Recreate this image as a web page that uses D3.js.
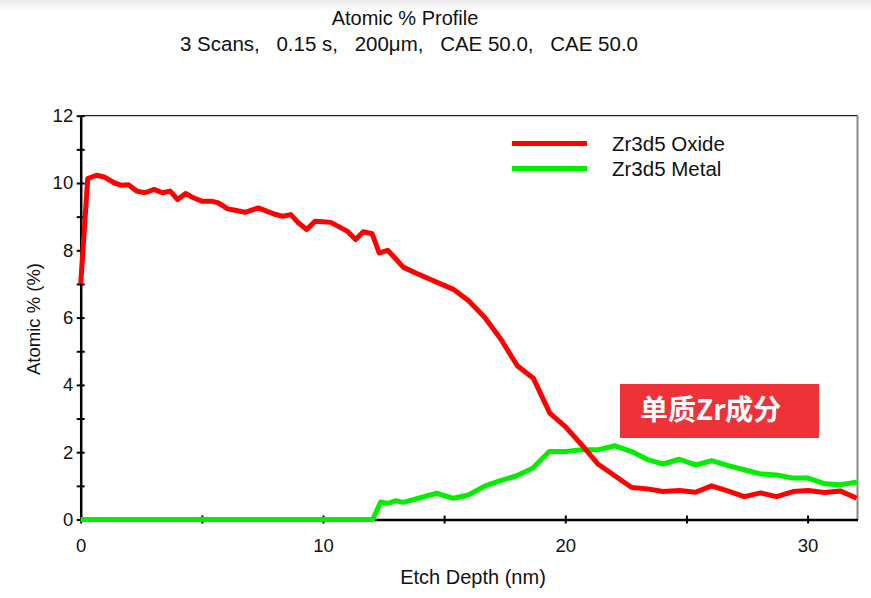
<!DOCTYPE html>
<html>
<head>
<meta charset="utf-8">
<script src="https://cdn.jsdelivr.net/npm/d3@7"></script>
<style>
  html, body { margin: 0; padding: 0; background: #fff; }
  svg { display: block; font-family: "Liberation Sans", Arial, sans-serif; }
</style>
</head>
<body>
<svg id="chart" width="871" height="598"></svg>
<script>
// Zr3d5 depth profile: etch depth (nm) vs atomic %
const oxideDepth = [0, 0.29, 0.66, 0.97, 1.39, 1.69, 1.97, 2.31, 2.65, 3.03, 3.37, 3.69, 4.0, 4.33, 4.65, 4.99, 5.4, 5.68, 6.07, 6.37, 6.78, 7.33, 8.02, 8.34, 8.67, 8.98, 9.33, 9.67, 10.01, 10.32, 10.63, 11.0, 11.35, 11.66, 12.03, 12.32, 12.67, 12.97, 13.31, 13.87, 15.38, 16.01, 16.66, 17.33, 18.02, 18.68, 19.36, 20.0, 20.7, 21.36, 22.74, 23.4, 24.04, 24.72, 25.37, 26.04, 26.7, 27.39, 28.06, 28.72, 29.4, 30.03, 30.7, 31.34, 32.03];
const oxideValue = [7.0, 10.13, 10.23, 10.18, 10.0, 9.93, 9.95, 9.76, 9.71, 9.81, 9.71, 9.76, 9.51, 9.69, 9.56, 9.46, 9.46, 9.41, 9.23, 9.19, 9.13, 9.26, 9.07, 9.01, 9.06, 8.82, 8.62, 8.86, 8.85, 8.83, 8.71, 8.57, 8.32, 8.55, 8.49, 7.92, 8.0, 7.77, 7.5, 7.31, 6.84, 6.5, 6.02, 5.37, 4.57, 4.2, 3.16, 2.76, 2.2, 1.64, 0.95, 0.91, 0.83, 0.86, 0.81, 1.0, 0.85, 0.68, 0.79, 0.68, 0.83, 0.86, 0.8, 0.85, 0.63];

const metalDepth = [0, 5, 10, 12.05, 12.38, 12.69, 13.01, 13.31, 14.69, 15.38, 16.0, 16.69, 17.3, 17.99, 18.65, 19.34, 20.03, 20.68, 21.33, 22.06, 22.74, 23.43, 24.04, 24.7, 25.39, 26.04, 26.73, 27.42, 28.1, 28.72, 29.41, 30.03, 30.72, 31.34, 32.03];
const metalValue = [0, 0, 0, 0, 0.52, 0.48, 0.56, 0.51, 0.78, 0.63, 0.73, 1.0, 1.15, 1.3, 1.52, 2.02, 2.02, 2.07, 2.07, 2.19, 2.02, 1.77, 1.65, 1.79, 1.62, 1.75, 1.6, 1.47, 1.35, 1.32, 1.23, 1.23, 1.06, 1.03, 1.11];

const seriesNames = ["Zr3d5 Oxide", "Zr3d5 Metal"];
const xTicks = [0, 5, 10, 15, 20, 25, 30];
const xTickLabels = ["0", "", "10", "", "20", "", "30"];
const yTicks = [0, 1, 2, 3, 4, 5, 6, 7, 8, 9, 10, 11, 12];
const yTickLabels = ["0", "", "2", "", "4", "", "6", "", "8", "", "10", "", "12"];
const titleLine1 = "Atomic % Profile";
const titleParts = ["3 Scans,", "0.15 s,", "200μm,", "CAE 50.0,", "CAE 50.0"];
const xTitle = "Etch Depth (nm)";
const yTitle = "Atomic % (%)";
const noteText = "单质Zr成分";

const colors = ["#ff0000", "#00ee00"];

const svg = d3.select("#chart");
const W = 871, H = 598;
const plot = { left: 80.7, top: 115.7, right: 857.5, bottom: 519.5 };

// faint grey band along the top edge
const defs = svg.append("defs");
const grad = defs.append("linearGradient").attr("id", "topband").attr("x1", 0).attr("y1", 0).attr("x2", 0).attr("y2", 1);
grad.append("stop").attr("offset", "0%").attr("stop-color", "#e9e9e9");
grad.append("stop").attr("offset", "100%").attr("stop-color", "#ffffff");
svg.append("rect").attr("x", 0).attr("y", 0).attr("width", W).attr("height", 11).attr("fill", "url(#topband)");

const x = d3.scaleLinear().domain([0, 32.06]).range([plot.left, plot.right]);
const y = d3.scaleLinear().domain([0, 12]).range([plot.bottom, plot.top]);

// title: first line centred, second line spread between fixed ends
svg.append("text").attr("x", 405).attr("y", 25).attr("text-anchor", "middle")
  .attr("font-size", 20).attr("fill", "#111").text(titleLine1);
const sub = svg.append("g");
const parts = titleParts.map(t => sub.append("text").attr("y", 51).attr("font-size", 20.5)
  .attr("fill", "#111").text(t));
const widths = parts.map(p => p.node().getComputedTextLength());
const subStart = 180, subEnd = 638;
const gap = (subEnd - subStart - d3.sum(widths)) / (parts.length - 1);
let cx = subStart;
parts.forEach((p, i) => { p.attr("x", cx); cx += widths[i] + gap; });

// frame: thin top, grey right
svg.append("line").attr("x1", plot.left).attr("x2", plot.right).attr("y1", plot.top).attr("y2", plot.top)
  .attr("stroke", "#222").attr("stroke-width", 1.2);
svg.append("line").attr("x1", plot.right).attr("x2", plot.right).attr("y1", plot.top).attr("y2", plot.bottom)
  .attr("stroke", "#888").attr("stroke-width", 2);

// axes with ticks crossing the axis line
const xAxis = d3.axisBottom(x).tickValues(xTicks).tickSize(0).tickFormat((d, i) => xTickLabels[i]);
const gx = svg.append("g").attr("transform", `translate(0,${plot.bottom})`).call(xAxis);
gx.select(".domain").attr("stroke", "#000").attr("stroke-width", 2.5);
gx.selectAll(".tick line").attr("y1", -4).attr("y2", 4).attr("stroke", "#000").attr("stroke-width", 2);
gx.selectAll(".tick text").attr("font-size", 18.5).attr("fill", "#111")
  .attr("font-family", "Liberation Sans, Arial, sans-serif").attr("y", 32).attr("dy", 0);

const yAxis = d3.axisLeft(y).tickValues(yTicks).tickSize(0).tickFormat((d, i) => yTickLabels[i]);
const gy = svg.append("g").attr("transform", `translate(${plot.left},0)`).call(yAxis);
gy.select(".domain").attr("stroke", "#000").attr("stroke-width", 2.5);
gy.selectAll(".tick line").attr("x1", -4).attr("x2", 4).attr("stroke", "#000").attr("stroke-width", 2);
gy.selectAll(".tick text").attr("font-size", 18.5).attr("fill", "#111")
  .attr("font-family", "Liberation Sans, Arial, sans-serif").attr("x", -7.5);

// axis titles
svg.append("text").attr("x", 473).attr("y", 584).attr("text-anchor", "middle")
  .attr("font-size", 20).attr("fill", "#111").text(xTitle);
svg.append("text").attr("transform", "translate(40,319) rotate(-90)").attr("text-anchor", "middle")
  .attr("font-size", 18.5).attr("fill", "#111").text(yTitle);

// series
const line = d3.line().x(d => x(d[0])).y(d => y(d[1]));
const metal = metalDepth.map((d, i) => [d, metalValue[i]]);
const oxide = oxideDepth.map((d, i) => [d, oxideValue[i]]);
const clip = defs.append("clipPath").attr("id", "plotclip");
clip.append("rect").attr("x", plot.left - 3).attr("y", plot.top - 3)
  .attr("width", plot.right - plot.left + 3).attr("height", plot.bottom - plot.top + 6);
const gLines = svg.append("g").attr("clip-path", "url(#plotclip)");
gLines.append("path").datum(metal).attr("d", line).attr("fill", "none")
  .attr("stroke", colors[1]).attr("stroke-width", 5).attr("stroke-linejoin", "round");
gLines.append("path").datum(oxide).attr("d", line).attr("fill", "none")
  .attr("stroke", colors[0]).attr("stroke-width", 5).attr("stroke-linejoin", "round");

// legend
const legend = svg.append("g");
seriesNames.forEach((name, i) => {
  const ly = 143.5 + i * 25;
  legend.append("line").attr("x1", 512).attr("x2", 587).attr("y1", ly).attr("y2", ly)
    .attr("stroke", colors[i]).attr("stroke-width", 5);
  legend.append("text").attr("x", 612).attr("y", ly + 7.4).attr("font-size", 20.5)
    .attr("fill", "#111").text(name);
});

// annotation box
svg.append("rect").attr("x", 620).attr("y", 384).attr("width", 199).attr("height", 54)
  .attr("fill", "#ee3338");
svg.append("text").attr("x", 640).attr("y", 420).attr("font-size", 28).attr("font-weight", "bold")
  .attr("font-family", "Noto Sans CJK SC, sans-serif").attr("fill", "#fff").text(noteText);
</script>
</body>
</html>
